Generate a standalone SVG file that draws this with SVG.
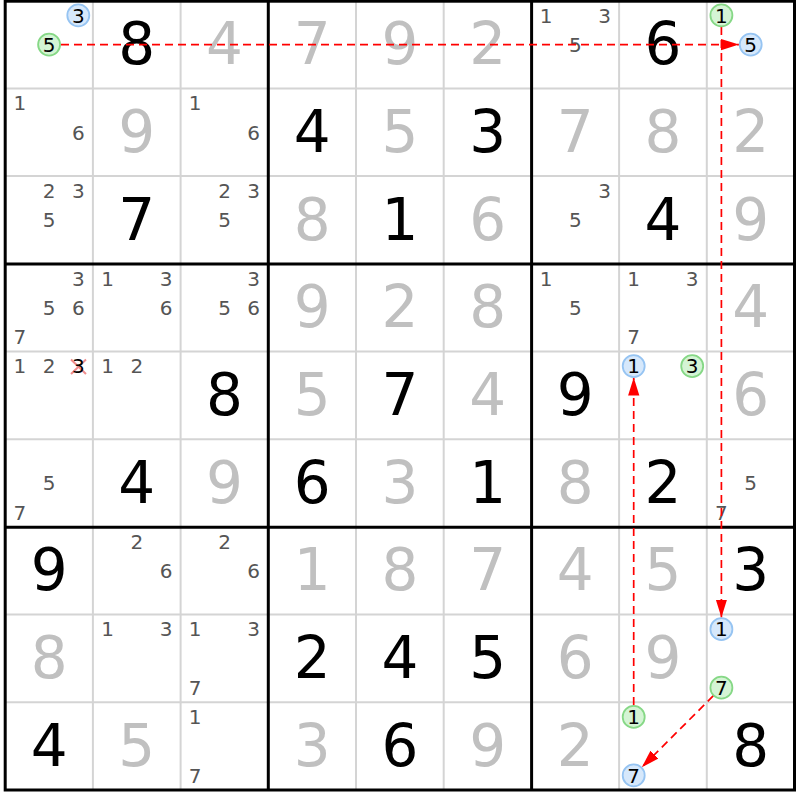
<svg xmlns="http://www.w3.org/2000/svg" width="800" height="800" viewBox="0 0 800 800">
<style>
.bg{fill:#fff}
.thin{stroke:#d4d4d4;stroke-width:2}
.thick{stroke:#000;stroke-width:3;fill:none}
text{font-family:"DejaVu Sans","Liberation Sans",sans-serif;text-anchor:middle}
.g{font-size:58px;fill:#000}
.s{font-size:58px;fill:#c0c0c0}
.c{font-size:20px;fill:#555}
.k{font-size:20px;fill:#000}
.cg{fill:#d4f4d4;stroke:#86d886;stroke-width:1.8}
.cb{fill:#d6e8fb;stroke:#96c4f2;stroke-width:1.8}
.arr{stroke:#ff0000;stroke-width:1.7;stroke-dasharray:8 5;fill:none;marker-end:url(#ah)}
.x{stroke:#f08c8c;stroke-width:2}
</style>
<defs>
<marker id="ah" markerUnits="userSpaceOnUse" markerWidth="18" markerHeight="12" refX="16" refY="5" orient="auto" viewBox="0 0 16 10">
<path d="M0,0 L16,5 L0,10 z" fill="#ff0000"/>
</marker>
</defs>
<rect class="bg" x="0" y="0" width="800" height="800"/>
<g id="grid">
<g class="thin">
<line x1="92.9" y1="0" x2="92.9" y2="790"/><line x1="180.6" y1="0" x2="180.6" y2="790"/>
<line x1="356" y1="0" x2="356" y2="790"/><line x1="443.7" y1="0" x2="443.7" y2="790"/>
<line x1="619.1" y1="0" x2="619.1" y2="790"/><line x1="706.8" y1="0" x2="706.8" y2="790"/>
<line x1="5.2" y1="88.4" x2="794.5" y2="88.4"/><line x1="5.2" y1="176.1" x2="794.5" y2="176.1"/>
<line x1="5.2" y1="351.5" x2="794.5" y2="351.5"/><line x1="5.2" y1="439.2" x2="794.5" y2="439.2"/>
<line x1="5.2" y1="614.6" x2="794.5" y2="614.6"/><line x1="5.2" y1="702.3" x2="794.5" y2="702.3"/>
</g>
<g class="thick">
<rect x="5.2" y="1.2" width="789.3" height="788.8"/>
<line x1="268.3" y1="1.2" x2="268.3" y2="790"/><line x1="531.6" y1="1.2" x2="531.6" y2="790"/>
<line x1="5.2" y1="264" x2="794.5" y2="264"/><line x1="5.2" y1="527.3" x2="794.5" y2="527.3"/>
</g>
</g>
<g id="givens">
<text class="g" x="136.8" y="64.1">8</text><text class="s" x="224.5" y="64.1">4</text><text class="s" x="312.2" y="64.1">7</text><text class="s" x="399.9" y="64.1">9</text><text class="s" x="487.6" y="64.1">2</text><text class="g" x="663" y="64.1">6</text>
<text class="s" x="136.8" y="151.8">9</text><text class="g" x="312.2" y="151.8">4</text><text class="s" x="399.9" y="151.8">5</text><text class="g" x="487.6" y="151.8">3</text><text class="s" x="575.3" y="151.8">7</text><text class="s" x="663" y="151.8">8</text><text class="s" x="750.7" y="151.8">2</text>
<text class="g" x="136.8" y="239.5">7</text><text class="s" x="312.2" y="239.5">8</text><text class="g" x="399.9" y="239.5">1</text><text class="s" x="487.6" y="239.5">6</text><text class="g" x="663" y="239.5">4</text><text class="s" x="750.7" y="239.5">9</text>
<text class="s" x="312.2" y="327.2">9</text><text class="s" x="399.9" y="327.2">2</text><text class="s" x="487.6" y="327.2">8</text><text class="s" x="750.7" y="327.2">4</text>
<text class="g" x="224.5" y="414.9">8</text><text class="s" x="312.2" y="414.9">5</text><text class="g" x="399.9" y="414.9">7</text><text class="s" x="487.6" y="414.9">4</text><text class="g" x="575.3" y="414.9">9</text><text class="s" x="750.7" y="414.9">6</text>
<text class="g" x="136.8" y="502.6">4</text><text class="s" x="224.5" y="502.6">9</text><text class="g" x="312.2" y="502.6">6</text><text class="s" x="399.9" y="502.6">3</text><text class="g" x="487.6" y="502.6">1</text><text class="s" x="575.3" y="502.6">8</text><text class="g" x="663" y="502.6">2</text>
<text class="g" x="49.1" y="590.3">9</text><text class="s" x="312.2" y="590.3">1</text><text class="s" x="399.9" y="590.3">8</text><text class="s" x="487.6" y="590.3">7</text><text class="s" x="575.3" y="590.3">4</text><text class="s" x="663" y="590.3">5</text><text class="g" x="750.7" y="590.3">3</text>
<text class="s" x="49.1" y="678">8</text><text class="g" x="312.2" y="678">2</text><text class="g" x="399.9" y="678">4</text><text class="g" x="487.6" y="678">5</text><text class="s" x="575.3" y="678">6</text><text class="s" x="663" y="678">9</text>
<text class="g" x="49.1" y="765.7">4</text><text class="s" x="136.8" y="765.7">5</text><text class="s" x="312.2" y="765.7">3</text><text class="g" x="399.9" y="765.7">6</text><text class="s" x="487.6" y="765.7">9</text><text class="s" x="575.3" y="765.7">2</text><text class="g" x="750.7" y="765.7">8</text>
</g>
<g id="candidates">
<text class="c" x="546" y="22.5">1</text><text class="c" x="604.5" y="22.5">3</text><text class="c" x="575.3" y="51.8">5</text>
<text class="c" x="19.8" y="110.2">1</text><text class="c" x="78.3" y="139.5">6</text>
<text class="c" x="195.2" y="110.2">1</text><text class="c" x="253.7" y="139.5">6</text>
<text class="c" x="49.1" y="197.9">2</text><text class="c" x="78.3" y="197.9">3</text><text class="c" x="49.1" y="227.2">5</text>
<text class="c" x="224.5" y="197.9">2</text><text class="c" x="253.7" y="197.9">3</text><text class="c" x="224.5" y="227.2">5</text>
<text class="c" x="604.5" y="197.9">3</text><text class="c" x="575.3" y="227.2">5</text>
<text class="c" x="78.3" y="285.6">3</text><text class="c" x="49.1" y="314.9">5</text><text class="c" x="78.3" y="314.9">6</text><text class="c" x="19.8" y="344.1">7</text>
<text class="c" x="107.5" y="285.6">1</text><text class="c" x="166" y="285.6">3</text><text class="c" x="166" y="314.9">6</text>
<text class="c" x="253.7" y="285.6">3</text><text class="c" x="224.5" y="314.9">5</text><text class="c" x="253.7" y="314.9">6</text>
<text class="c" x="546" y="285.6">1</text><text class="c" x="575.3" y="314.9">5</text>
<text class="c" x="633.7" y="285.6">1</text><text class="c" x="692.2" y="285.6">3</text><text class="c" x="633.7" y="344.1">7</text>
<text class="c" x="19.8" y="373.3">1</text><text class="c" x="49.1" y="373.3">2</text>
<g id="eliminated">
<line class="x" x1="71" y1="359.5" x2="86" y2="374"/><line class="x" x1="86" y1="359.5" x2="71" y2="374"/>
<text class="k" x="78.3" y="373.3">3</text>
</g>
<text class="c" x="107.5" y="373.3">1</text><text class="c" x="136.8" y="373.3">2</text>
<text class="c" x="49.1" y="490.3">5</text><text class="c" x="19.8" y="519.5">7</text>
<text class="c" x="750.7" y="490.3">5</text><text class="c" x="721.4" y="519.5">7</text>
<text class="c" x="136.8" y="548.7">2</text><text class="c" x="166" y="578">6</text>
<text class="c" x="224.5" y="548.7">2</text><text class="c" x="253.7" y="578">6</text>
<text class="c" x="107.5" y="636.4">1</text><text class="c" x="166" y="636.4">3</text>
<text class="c" x="195.2" y="636.4">1</text><text class="c" x="253.7" y="636.4">3</text><text class="c" x="195.2" y="694.9">7</text>
<text class="c" x="195.2" y="724.1">1</text><text class="c" x="195.2" y="782.6">7</text>
</g>
<g id="connectors">
<line class="arr" x1="61" y1="44.6" x2="739" y2="44.6"/>
<line class="arr" x1="721.4" y1="27" x2="721.4" y2="617.5"/>
<line class="arr" x1="713.4" y1="695.7" x2="641.8" y2="767.3"/>
<line class="arr" x1="633.7" y1="705" x2="633.7" y2="377.5"/>
</g>
<g id="r0c0-3"><circle class="cb" cx="78.3" cy="15.3" r="11"/><text class="k" x="78.3" y="22.5">3</text></g>
<g id="r0c0-5"><circle class="cg" cx="49.1" cy="44.6" r="11"/><text class="k" x="49.1" y="51.8">5</text></g>
<g id="r0c8-1"><circle class="cg" cx="721.4" cy="15.3" r="11"/><text class="k" x="721.4" y="22.5">1</text></g>
<g id="r0c8-5"><circle class="cb" cx="750.7" cy="44.6" r="11"/><text class="k" x="750.7" y="51.8">5</text></g>
<g id="r4c7-1"><circle class="cb" cx="633.7" cy="366.1" r="11"/><text class="k" x="633.7" y="373.3">1</text></g>
<g id="r4c7-3"><circle class="cg" cx="692.2" cy="366.1" r="11"/><text class="k" x="692.2" y="373.3">3</text></g>
<g id="r7c8-1"><circle class="cb" cx="721.4" cy="629.2" r="11"/><text class="k" x="721.4" y="636.4">1</text></g>
<g id="r7c8-7"><circle class="cg" cx="721.4" cy="687.7" r="11"/><text class="k" x="721.4" y="694.9">7</text></g>
<g id="r8c7-1"><circle class="cg" cx="633.7" cy="716.9" r="11"/><text class="k" x="633.7" y="724.1">1</text></g>
<g id="r8c7-7"><circle class="cb" cx="633.7" cy="775.4" r="11"/><text class="k" x="633.7" y="782.6">7</text></g>
</svg>
